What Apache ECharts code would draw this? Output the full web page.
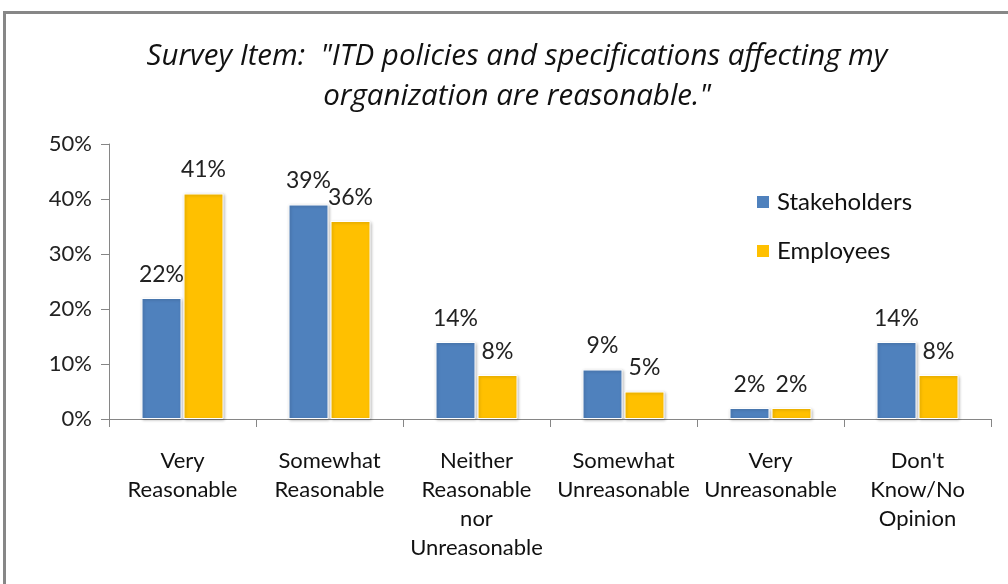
<!DOCTYPE html>
<html>
<head>
<meta charset="utf-8">
<script src="https://cdn.jsdelivr.net/npm/echarts@6/dist/echarts.min.js"></script>
<style>html,body{margin:0;padding:0;background:#fff;}#c{width:1008px;height:584px;}</style>
</head>
<body>
<div id="c"></div>
<script>
var categories = ["Very\nReasonable", "Somewhat\nReasonable", "Neither\nReasonable\nnor\nUnreasonable", "Somewhat\nUnreasonable", "Very\nUnreasonable", "Don't\nKnow/No\nOpinion"];
var stakeholders = [22, 39, 14, 9, 2, 14];
var employees = [41, 36, 8, 5, 2, 8];
var yTicks = [0, 10, 20, 30, 40, 50];
var titleText = "Survey Item:  \"ITD policies and specifications affecting my\norganization are reasonable.\"";

var chart = echarts.init(document.getElementById('c'), null, {renderer: 'canvas'});
var font = 'Lato, "Open Sans", sans-serif';
var labelStyle = {show: true, position: 'top', distance: 12, formatter: function(p){return p.value + '%';}, fontFamily: font, fontSize: 23, color: '#222'};
chart.setOption({
  animation: false,
  backgroundColor: '#fff',
  graphic: [{type: 'rect', shape: {x: 4.5, y: 12.5, width: 1010, height: 600}, style: {fill: 'none', stroke: '#878787', lineWidth: 3}}],
  title: {text: titleText, left: 512, textAlign: 'center', top: 32, textStyle: {fontFamily: '"Open Sans", Lato, sans-serif', fontStyle: 'italic', fontWeight: 'normal', fontSize: 29.5, lineHeight: 40, color: '#111'}},
  legend: {orient: 'vertical', left: 750, top: 185, itemWidth: 14, itemHeight: 14, itemGap: 25, icon: 'rect', textStyle: {fontFamily: font, fontSize: 24, color: '#111', padding: [0, 0, 0, 2]}, data: ['Stakeholders', 'Employees']},
  grid: {left: 109, right: 17, top: 144, bottom: 165, containLabel: false},
  xAxis: {type: 'category', data: categories, axisLine: {lineStyle: {color: '#868686'}}, axisTick: {show: true, length: 8, lineStyle: {color: '#868686'}}, axisLabel: {interval: 0, margin: 27, fontFamily: font, fontSize: 22, lineHeight: 29, color: '#111'}},
  yAxis: {type: 'value', min: 0, max: 50, interval: 10, axisLine: {show: true, lineStyle: {color: '#868686'}}, axisTick: {show: true, length: 8, lineStyle: {color: '#868686'}}, splitLine: {show: false}, axisLabel: {margin: 17, fontFamily: font, fontSize: 22, color: '#222', formatter: function(v){return yTicks.indexOf(v) >= 0 ? v + '%' : '';}}},
  series: [
    {name: 'Stakeholders', type: 'bar', data: stakeholders, barWidth: 40, barGap: '5%', itemStyle: {color: '#4F81BD', borderColor: '#fff', borderWidth: 1, shadowColor: 'rgba(0,0,0,0.25)', shadowBlur: 3, shadowOffsetX: 1, shadowOffsetY: 1}, label: labelStyle},
    {name: 'Employees', type: 'bar', data: employees, barWidth: 40, barGap: '5%', itemStyle: {color: '#FFC000', borderColor: '#fff', borderWidth: 1, shadowColor: 'rgba(0,0,0,0.25)', shadowBlur: 3, shadowOffsetX: 1, shadowOffsetY: 1}, label: labelStyle}
  ]
});
</script>
</body>
</html>
